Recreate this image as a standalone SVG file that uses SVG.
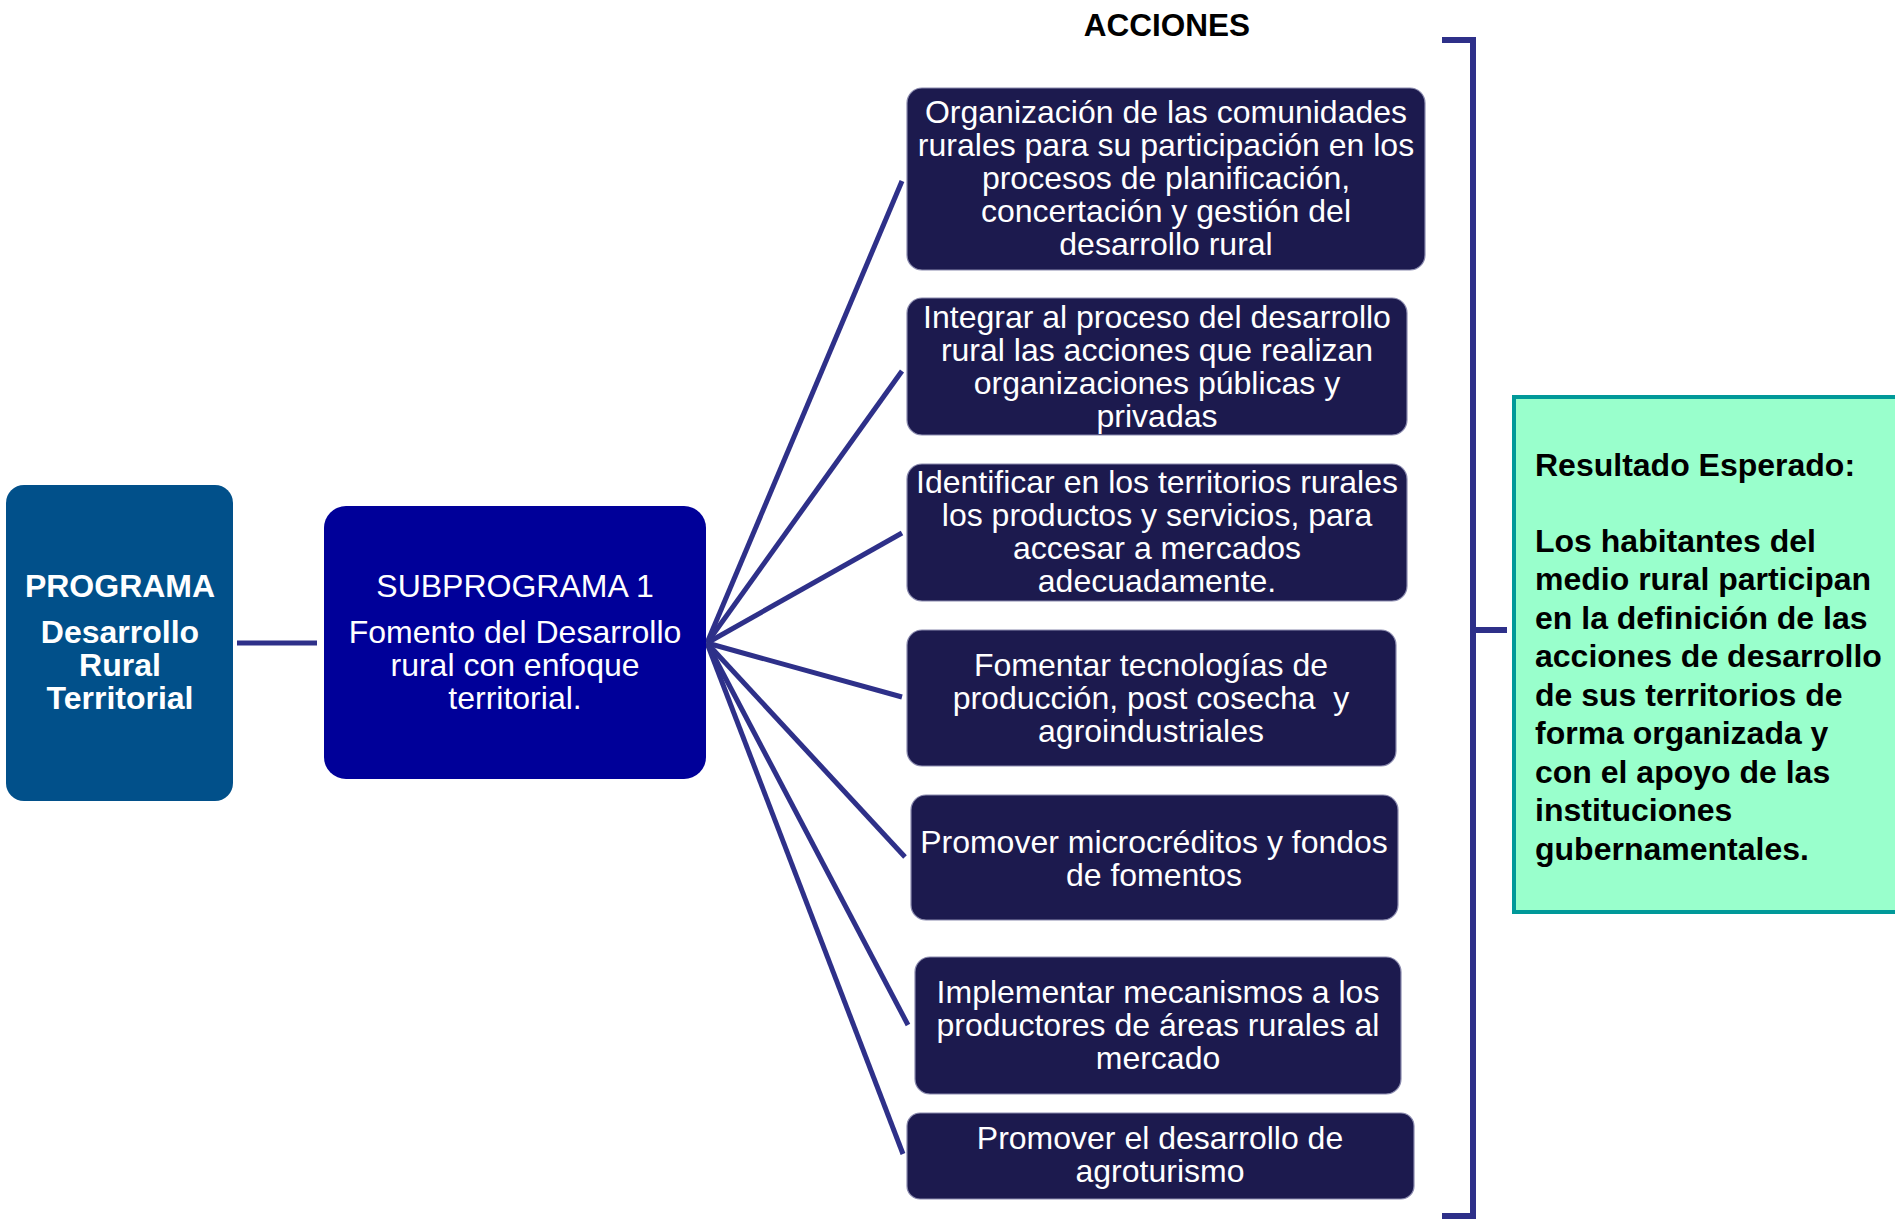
<svg xmlns="http://www.w3.org/2000/svg" width="1895" height="1220" viewBox="0 0 1895 1220">
<style>
text{font-family:"Liberation Sans",Arial,sans-serif;font-size:32px}
.w{fill:#fff;text-anchor:middle}
.b{font-weight:bold}
.act{fill:#1C1A4E;stroke:#8a8aae;stroke-width:1.2}
.con{stroke:#2E3089;stroke-width:5;fill:none;stroke-linecap:butt}
.g{fill:#000;font-weight:bold}
</style>
<rect width="1895" height="1220" fill="#fff"/>
<g id="connectors">
<line class="con" x1="237" y1="643" x2="317" y2="643"/>
<line class="con" x1="707" y1="643" x2="902" y2="181"/>
<line class="con" x1="707" y1="643" x2="902" y2="371"/>
<line class="con" x1="707" y1="643" x2="902" y2="533"/>
<line class="con" x1="707" y1="643" x2="902" y2="697"/>
<line class="con" x1="707" y1="643" x2="905" y2="857"/>
<line class="con" x1="707" y1="643" x2="908" y2="1025"/>
<line class="con" x1="707" y1="643" x2="903" y2="1154"/>
<path class="con" d="M1442 40 H1473 V1216 H1442 M1473 630 H1507" style="stroke-width:6"/>
</g>
<g id="acciones-title"><text x="1167" y="36" class="b" text-anchor="middle" style="font-size:31.5px">ACCIONES</text></g>
<g id="programa">
<rect x="6" y="485" width="227" height="316" rx="18" fill="#01508A"/>
<text class="w b" x="120" y="597">PROGRAMA</text>
<text class="w b" x="120" y="643">Desarrollo</text>
<text class="w b" x="120" y="676">Rural</text>
<text class="w b" x="120" y="709">Territorial</text>
</g>
<g id="subprograma">
<rect x="324" y="506" width="382" height="273" rx="22" fill="#000099"/>
<text class="w" x="515" y="597">SUBPROGRAMA 1</text>
<text class="w" x="515" y="643">Fomento del Desarrollo</text>
<text class="w" x="515" y="676">rural con enfoque</text>
<text class="w" x="515" y="709">territorial.</text>
</g>
<g id="accion1">
<rect class="act" x="907" y="88" width="518" height="182" rx="15"/>
<text class="w" x="1166" y="123">Organización de las comunidades</text>
<text class="w" x="1166" y="156">rurales para su participación en los</text>
<text class="w" x="1166" y="189">procesos de planificación,</text>
<text class="w" x="1166" y="222">concertación y gestión del</text>
<text class="w" x="1166" y="255">desarrollo rural</text>
</g>
<g id="accion2">
<rect class="act" x="907" y="298" width="500" height="137" rx="15"/>
<text class="w" x="1157" y="328">Integrar al proceso del desarrollo</text>
<text class="w" x="1157" y="361">rural las acciones que realizan</text>
<text class="w" x="1157" y="394">organizaciones públicas y</text>
<text class="w" x="1157" y="427">privadas</text>
</g>
<g id="accion3">
<rect class="act" x="907" y="464" width="500" height="137" rx="15"/>
<text class="w" x="1157" y="493">Identificar en los territorios rurales</text>
<text class="w" x="1157" y="526">los productos y servicios, para</text>
<text class="w" x="1157" y="559">accesar a mercados</text>
<text class="w" x="1157" y="592">adecuadamente.</text>
</g>
<g id="accion4">
<rect class="act" x="907" y="630" width="489" height="136" rx="15"/>
<text class="w" x="1151" y="676">Fomentar tecnologías de</text>
<text class="w" x="1151" y="709" xml:space="preserve">producción, post cosecha  y</text>
<text class="w" x="1151" y="742">agroindustriales</text>
</g>
<g id="accion5">
<rect class="act" x="911" y="795" width="487" height="125" rx="15"/>
<text class="w" x="1154" y="853">Promover microcréditos y fondos</text>
<text class="w" x="1154" y="886">de fomentos</text>
</g>
<g id="accion6">
<rect class="act" x="915" y="957" width="486" height="137" rx="15"/>
<text class="w" x="1158" y="1003">Implementar mecanismos a los</text>
<text class="w" x="1158" y="1036">productores de áreas rurales al</text>
<text class="w" x="1158" y="1069">mercado</text>
</g>
<g id="accion7">
<rect class="act" x="907" y="1113" width="507" height="86" rx="13"/>
<text class="w" x="1160" y="1149">Promover el desarrollo de</text>
<text class="w" x="1160" y="1182">agroturismo</text>
</g>
<g id="resultado">
<rect x="1514" y="397" width="390" height="515" fill="#99FFCC" stroke="#009999" stroke-width="4"/>
<text class="g" x="1535" y="476">Resultado Esperado:</text>
<text class="g" x="1535" y="552">Los habitantes del</text>
<text class="g" x="1535" y="590">medio rural participan</text>
<text class="g" x="1535" y="629">en la definición de las</text>
<text class="g" x="1535" y="667">acciones de desarrollo</text>
<text class="g" x="1535" y="706">de sus territorios de</text>
<text class="g" x="1535" y="744">forma organizada y</text>
<text class="g" x="1535" y="783">con el apoyo de las</text>
<text class="g" x="1535" y="821">instituciones</text>
<text class="g" x="1535" y="860">gubernamentales.</text>
</g>
</svg>
